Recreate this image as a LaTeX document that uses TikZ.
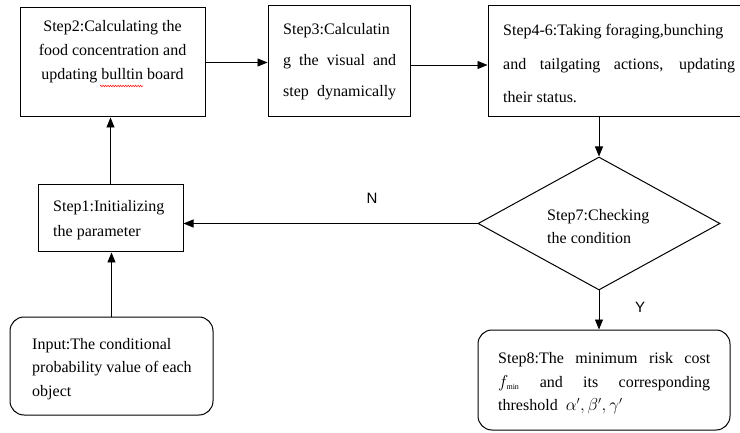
\documentclass[tikz,border=0pt]{standalone}
\usepackage{fontspec}
\setmainfont{Liberation Serif}
\newfontfamily\lsans{Liberation Sans}
\usetikzlibrary{arrows.meta,shapes.geometric,decorations.pathmorphing}
\tikzset{
  box/.style={draw,line width=1pt,inner sep=0pt},
  rbox/.style={box,rounded corners=14pt},
  arr/.style={-{Triangle[length=10pt,width=8pt]},line width=0.9pt},
  txt/.style={inner sep=0pt,align=left},
  yn/.style={inner sep=0pt,font=\lsans\fontsize{15}{18}\selectfont}
}
\begin{document}
\begin{tikzpicture}[x=1pt,y=-1pt]
\useasboundingbox (0,0) rectangle (740,433);
\begin{scope}
\clip (0,0) rectangle (740,433);
% boxes
\node[box,minimum width=185pt,minimum height=109pt] (s2) at (112.5,62.5) {};
\node[box,minimum width=142pt,minimum height=111pt] (s3) at (339,61.5) {};
\node[box,minimum width=257pt,minimum height=111pt] (s46) at (616.5,61.5) {};
\node[box,diamond,minimum width=242pt,minimum height=133pt] (s7) at (599,223.5) {};
\node[box,minimum width=145pt,minimum height=67pt] (s1) at (110.5,218.5) {};
\node[rbox,minimum width=203pt,minimum height=98pt] (in) at (111.5,366) {};
\node[rbox,minimum width=252pt,minimum height=100pt] (s8) at (604,380) {};
% texts
\node[txt,align=center,font=\fontsize{16}{24}\selectfont] (t2) at (112.5,52)
  {Step2:Calculating the\\food concentration and\\updating bulltin board};
\draw[red,line width=0.5pt,decorate,decoration={zigzag,amplitude=0.8pt,segment length=2.5pt}] (100,86) -- (143,86);
\node[txt,anchor=west,font=\fontsize{16}{31}\selectfont] (t3) at (283,62)
  {Step3:Calculatin\\\makebox[113pt][s]{g the visual and}\\\makebox[113pt][s]{step dynamically}};
\node[txt,anchor=west,font=\fontsize{16}{33.5}\selectfont] (t46) at (503,63.5)
  {Step4-6:Taking foraging,bunching\\\makebox[232pt][s]{and tailgating actions, updating}\\their status.};
\node[txt,anchor=west,font=\fontsize{16}{23}\selectfont] (t7) at (547,226.5)
  {Step7:Checking\\the condition};
\node[txt,anchor=west,font=\fontsize{16}{25}\selectfont] (t1) at (53,220.5)
  {Step1:Initializing\\the parameter};
\node[txt,anchor=west,font=\fontsize{16}{23.5}\selectfont] (tin) at (32,369)
  {Input:The conditional\\probability value of each\\object};
\node[txt,anchor=west,font=\fontsize{16}{23.5}\selectfont] (t8) at (498,383.5)
  {\makebox[212pt][s]{Step8:The minimum risk cost}\\\makebox[212pt][s]{$f_{\scriptscriptstyle\mathrm{min}}$ and its corresponding}\\threshold\ \ $\alpha',\beta',\gamma'$};
% labels
\node[yn] (nlab) at (372,198) {N};
\node[yn] (ylab) at (640,307) {Y};
% connectors
\draw[arr] (s2.east) -- (s2.east -| s3.west);
\draw[arr] ([yshift=-3.5pt]s3.east) -- ([yshift=-3.5pt]s3.east -| s46.west);
\draw[arr] (s46.south -| s7.north) -- (s7.north);
\draw[arr] (s7.west) -- (s7.west -| s1.east);
\draw[arr] (s7.south) -- (s7.south |- s8.north);
\draw[arr] (in.north) -- (in.north |- s1.south);
\draw[arr] (s1.north) -- (s1.north |- s2.south);
\end{scope}
\end{tikzpicture}
\end{document}
